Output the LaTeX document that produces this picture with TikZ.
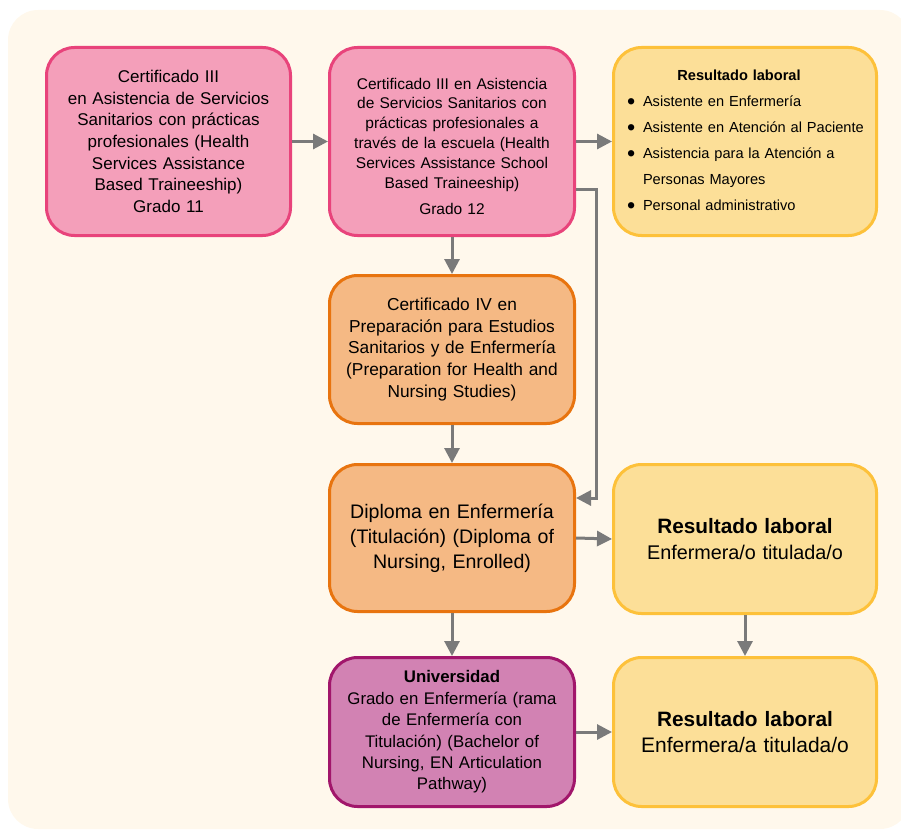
\documentclass[tikz,border=0pt]{standalone}
\usepackage{fontspec}
\setmainfont{Liberation Sans}
\usetikzlibrary{arrows.meta}
\definecolor{bgc}{HTML}{FFF8EC}
\definecolor{pinkf}{HTML}{F49FBA}
\definecolor{pinkd}{HTML}{E8437B}
\definecolor{orf}{HTML}{F5B984}
\definecolor{ord}{HTML}{E8740F}
\definecolor{yef}{HTML}{FCDF98}
\definecolor{yed}{HTML}{FDC13A}
\definecolor{puf}{HTML}{D282B3}
\definecolor{pud}{HTML}{A1166B}
\definecolor{arrc}{HTML}{7A7A7A}
\newcommand{\bulitem}{\makebox[16pt][l]{\raisebox{-0.2em}{\scalebox{1.6}{\textbullet}}}}
\tikzset{
  boxbase/.style={rounded corners=28pt, line width=3pt, inner sep=0pt, align=center, text=black},
  pinkbox/.style={boxbase, fill=pinkf, draw=pinkd},
  orbox/.style={boxbase, fill=orf, draw=ord},
  yebox/.style={boxbase, fill=yef, draw=yed},
  pubox/.style={boxbase, fill=puf, draw=pud},
  arr/.style={draw=arrc, line width=3pt, -{Triangle[length=15pt,width=15pt]}}
}
\begin{document}
\begin{tikzpicture}[x=1pt,y=-1pt]
\useasboundingbox (0,0) rectangle (901,829);
\fill[bgc, rounded corners=30pt] (8,10) rectangle (910,829);

\node[pinkbox, minimum width=244pt, minimum height=188pt, text width=236pt,
      font=\fontsize{17}{21.6}\selectfont] (b1) at (168.5,141.5)
  {Certificado III\\en Asistencia de Servicios\\Sanitarios con prácticas\\profesionales (Health\\Services Assistance\\Based Traineeship)\\Grado 11};

\node[pinkbox, minimum width=245pt, minimum height=188pt, text width=236pt,
      font=\fontsize{15.5}{19.8}\selectfont] (b2) at (452,141.5)
  {\rule{0pt}{21pt}Certificado III en Asistencia\\de Servicios Sanitarios con\\prácticas profesionales a\\través de la escuela (Health\\Services Assistance School\\Based Traineeship)\\[7pt]Grado 12};

\node[yebox, minimum width=263pt, minimum height=188pt, text width=236pt, align=left,
      font=\fontsize{14.6}{26}\selectfont] (b3) at (745,141.5)
  {\makebox[236pt][c]{\hspace*{-12pt}\bfseries Resultado laboral}\\
   \bulitem\mbox{Asistente en Enfermería}\\
   \bulitem\mbox{Asistente en Atención al Paciente}\\
   \bulitem\mbox{Asistencia para la Atención a}\\
   \hspace*{16pt}\mbox{Personas Mayores}\\
   \bulitem\mbox{Personal administrativo}};

\node[orbox, minimum width=245pt, minimum height=148pt, text width=236pt,
      font=\fontsize{17.3}{21.6}\selectfont] (b4) at (452,349.5)
  {Certificado IV en\\Preparación para Estudios\\Sanitarios y de Enfermería\\(Preparation for Health and\\Nursing Studies)};

\node[orbox, minimum width=245pt, minimum height=147pt, text width=236pt,
      font=\fontsize{19.6}{25}\selectfont] (b5) at (452,538)
  {Diploma en Enfermería\\(Titulación) (Diploma of\\Nursing, Enrolled)};

\node[yebox, minimum width=263pt, minimum height=149pt, text width=250pt,
      font=\fontsize{19.8}{26}\selectfont] (b6) at (745,539)
  {{\fontsize{20.8}{26}\selectfont\bfseries Resultado laboral}\\Enfermera/o titulada/o};

\node[pubox, minimum width=245pt, minimum height=149pt, text width=240pt,
      font=\fontsize{16.8}{21.4}\selectfont] (b7) at (452,732)
  {\textbf{Universidad}\\Grado en Enfermería (rama\\de Enfermería con\\Titulación) (Bachelor of\\Nursing, EN Articulation\\Pathway)};

\node[yebox, minimum width=263pt, minimum height=149pt, text width=250pt,
      font=\fontsize{21}{26}\selectfont] (b8) at (745,732)
  {{\fontsize{20.8}{26}\selectfont\bfseries Resultado laboral}\\Enfermera/a titulada/o};

\draw[arr] (b1.east) -- (b2.west);
\draw[arr] (b2.east) -- (b3.west);
\draw[arr] (b2.south) -- (b4.north);
\draw[arr] (b4.south) -- (b5.north);
\draw[arr] (b5.east) -- (b6.west);
\draw[arr] (b5.south) -- (b7.north);
\draw[arr] (b6.south) -- (b8.north);
\draw[arr] (b7.east) -- (b8.west);
\coordinate (elb) at (596,189);
\draw[arr] ([yshift=-47.5pt]b2.east) -- (elb) |- ([yshift=40pt]b5.east);
\end{tikzpicture}
\end{document}
